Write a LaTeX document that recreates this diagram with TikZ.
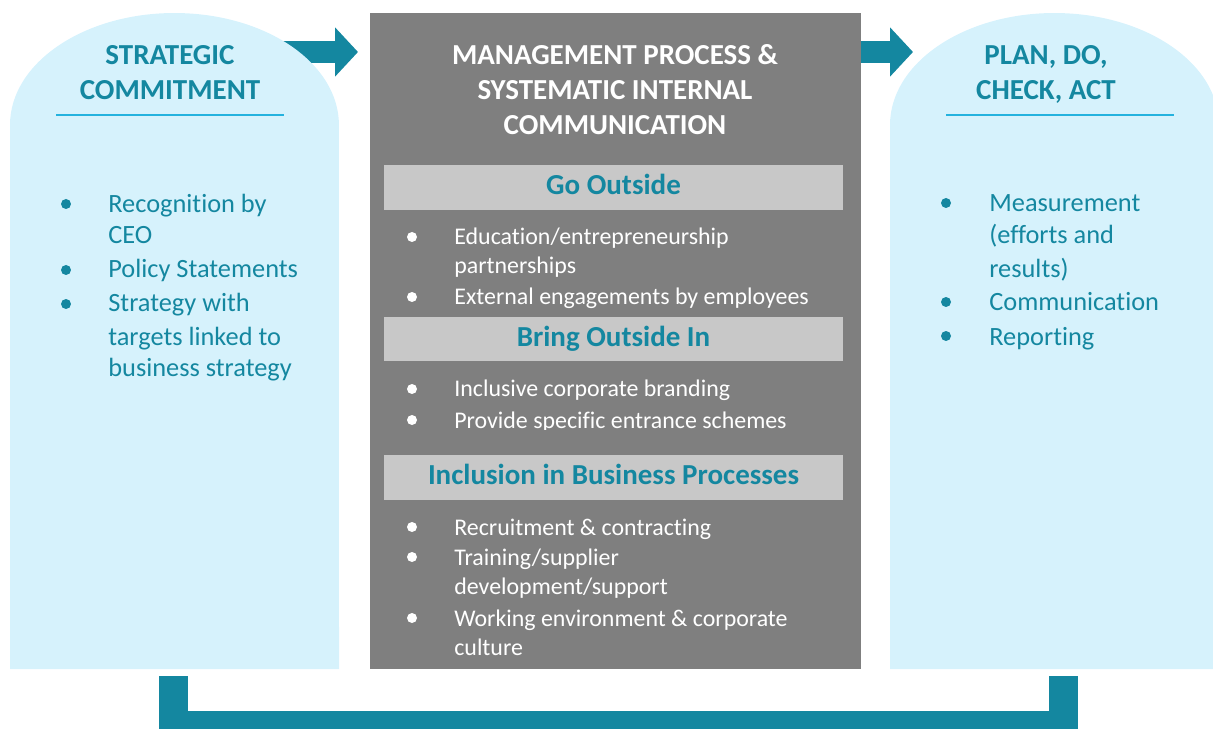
\documentclass[tikz,border=0pt]{standalone}
\usepackage{fontspec}
\setmainfont{Carlito}[Ligatures=NoCommon]
\usetikzlibrary{arrows.meta}
\definecolor{myteal}{RGB}{20,135,160}
\definecolor{lightpanel}{RGB}{214,242,252}
\definecolor{midgray}{RGB}{127,127,127}
\definecolor{headgray}{RGB}{200,200,200}
\definecolor{rulecyan}{RGB}{36,178,222}

\begin{document}
\begin{tikzpicture}[x=0.02cm, y=-0.02cm,
	headfont/.style={font=\fontsize{16.5}{19.8}\selectfont\bfseries},
	heading/.style={headfont, text=myteal, anchor=base, inner sep=0},
	title/.style={headfont, text=white, anchor=base, inner sep=0},
	sidetext/.style={font=\fontsize{15}{18.7}\selectfont, text=myteal, anchor=base west, inner sep=0},
	midtext/.style={font=\fontsize{13.6}{17}\selectfont, text=white, anchor=base west, inner sep=0},
	subhead/.style={headfont, text=myteal, fill=headgray, minimum width=9.18cm, minimum height=0.9cm, inner sep=0, text height=10.6pt, text depth=2.3pt},
	flow/.style={myteal, line width=0.44cm, -{Triangle[length=0.46cm, width=0.96cm]}},
	loopline/.style={myteal, line width=0.58cm},
	dot/.style={circle, inner sep=0, minimum size=0.2cm}]
			\clip (0,0) rectangle (1213,729);
			
			% Centre block and the arrow that runs into it
			\node[fill=midgray, inner sep=0, outer sep=0, minimum width=9.82cm, minimum height=13.12cm, anchor=north west] (mgmt) at (370,13) {};
			\coordinate (lout) at (270,52);
			\draw[flow] (lout) -- ([xshift=-0.24cm]mgmt.west |- lout);
			
			% Side panels with arched tops
			\fill[lightpanel] (10,669) -- (10,125) arc[start angle=180, end angle=0, x radius=3.29cm, y radius=2.24cm] -- (339,669) -- cycle;
			\fill[lightpanel] (890,669) -- (890,125) arc[start angle=180, end angle=0, x radius=3.29cm, y radius=2.24cm] -- (1219,669) -- cycle;
			\draw[flow] (mgmt.east |- lout) -- (913,52);
			
			% Feedback loop under the panels
			\coordinate (lfoot) at (173.5,676);
			\coordinate (rfoot) at (1063.5,676);
			\draw[loopline] (lfoot) -- ++(0,49.5) -| (rfoot);
			
			% Headings
			\node[heading] (sc1) at (170,64.5) {STRATEGIC};
			\node[heading] (sc2) at (170,99.5) {COMMITMENT};
			\draw[rulecyan, line width=0.04cm] (56,115) -- (284,115);
			\node[heading] (pd1) at (1046,64.5) {PLAN, DO,};
			\node[heading] (pd2) at (1046,99.5) {CHECK, ACT};
			\draw[rulecyan, line width=0.04cm] (946,115) -- (1174,115);
			\node[title] (mp1) at (615,64.5) {MANAGEMENT PROCESS \&};
			\node[title] (mp2) at (615,99.5) {SYSTEMATIC INTERNAL};
			\node[title] (mp3) at (615,134.5) {COMMUNICATION};
			
			% Left and right lists
			\foreach \y/\t [count=\i] in {213/Recognition by, 244/CEO, 278/Policy Statements, 312/Strategy with, 345/targets linked to, 377/business strategy}
				\node[sidetext, name=left\i] at (108,\y) {\t};
			\foreach \y/\t [count=\i] in {212/Measurement, 244/(efforts and, 278/results), 311/Communication, 345/Reporting}
				\node[sidetext, name=right\i] at (989,\y) {\t};
			\foreach \y [count=\i] in {204,270,304}
				\node[dot, fill=myteal, name=ldot\i] at (66,\y) {};
			\foreach \y [count=\i] in {203,302,336}
				\node[dot, fill=myteal, name=rdot\i] at (946,\y) {};
			
			% Centre sections
			\node[subhead] (go) at (613.5,187.5) {Go Outside};
			\node[subhead] (bring) at (613.5,339) {Bring Outside In};
			\node[subhead] (incl) at (613.5,477.5) {Inclusion in Business Processes};
			\foreach \y/\t [count=\i] in {245/{Education/entrepreneurship}, 274/partnerships, 305/External engagements by employees}
				\node[midtext, name=go\i] at (454,\y) {\t};
			\node[midtext] (bring1) at (454,397) {Inclusive corporate branding};
			\begin{scope}
				\clip (370,370) rectangle (861,429);
				\node[midtext] (bring2) at (454,428) {Provide specific entrance schemes};
			\end{scope}
			\foreach \y/\t [count=\i] in {535/Recruitment \& contracting, 565/{Training/supplier}, 594/{development/support}, 626/Working environment \& corporate, 655/culture}
				\node[midtext, name=incl\i] at (454,\y) {\t};
			\foreach \y [count=\i] in {237,297,389,420,527,557,618}
				\node[dot, fill=white, name=mdot\i] at (412,\y) {};
\end{tikzpicture}
\end{document}
